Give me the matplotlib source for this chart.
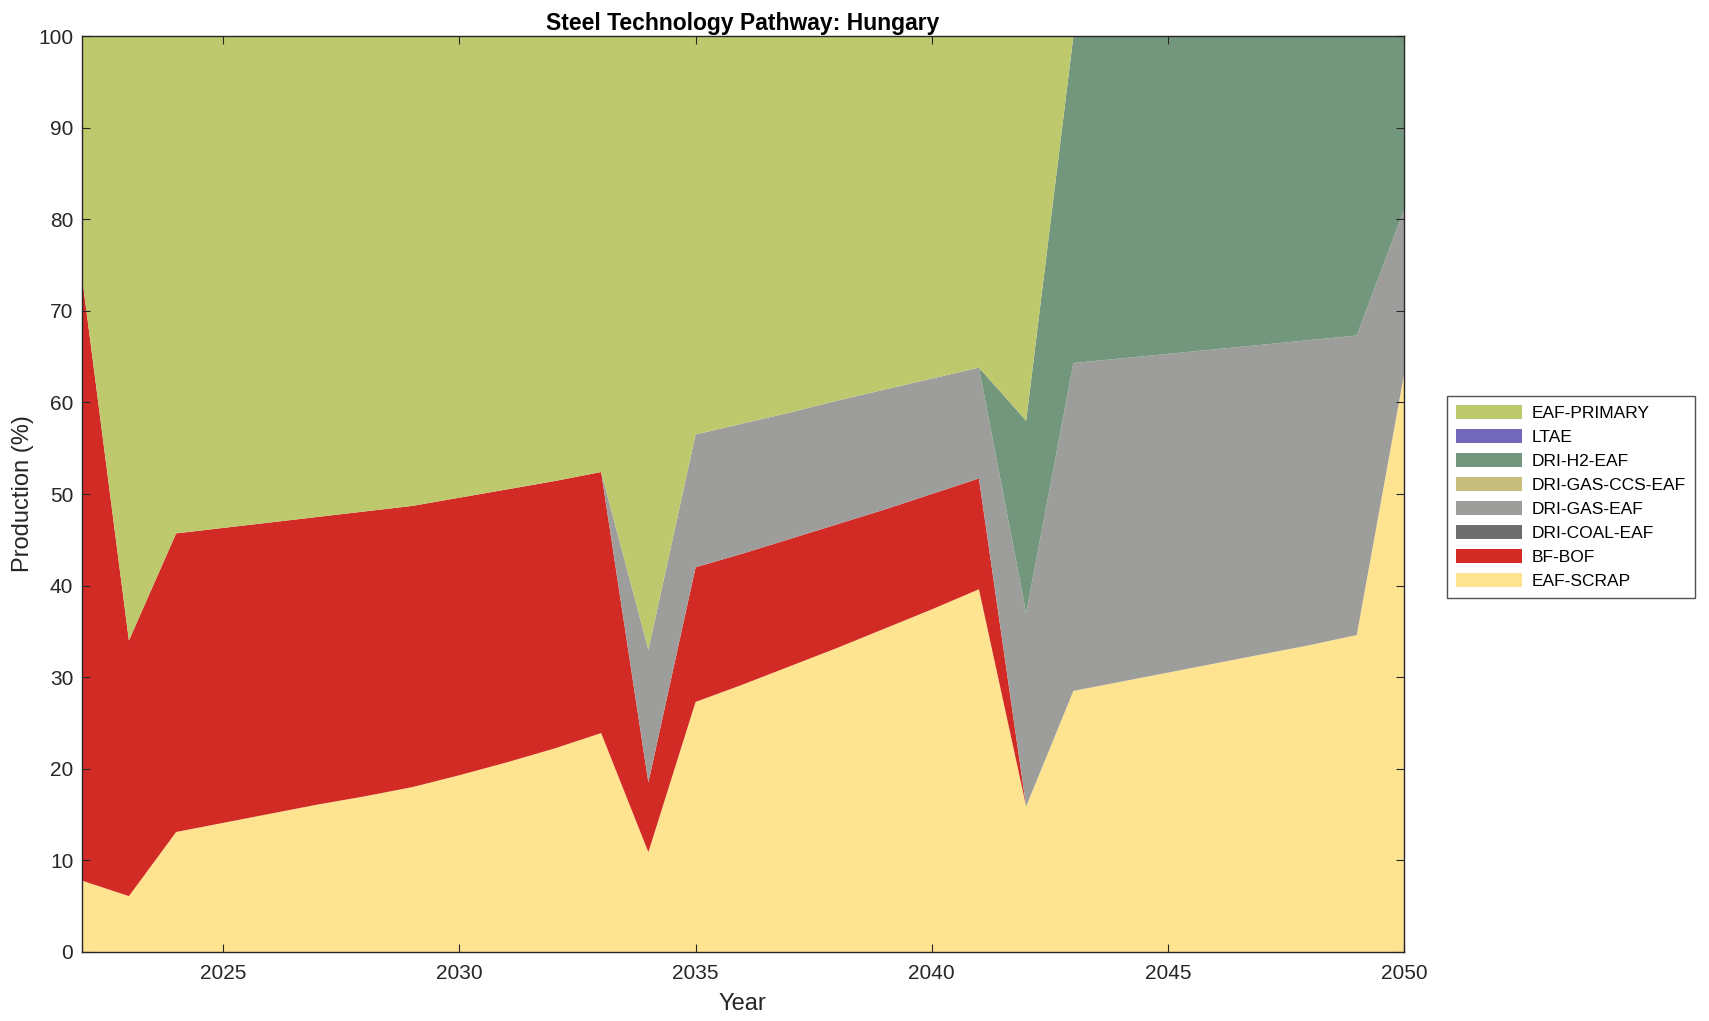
import matplotlib
matplotlib.use('Agg')
import matplotlib.pyplot as plt

plt.rcParams['font.family'] = ['Liberation Sans', 'DejaVu Sans']

years = list(range(2022, 2051))

eaf_scrap = [7.8, 6.1, 13.1, 14.1, 15.1, 16.1, 17.0, 18.0, 19.3, 20.7, 22.2, 23.9, 10.9, 27.3,
             29.2, 31.2, 33.2, 35.3, 37.4, 39.6, 15.9, 28.5, 29.5, 30.5, 31.5, 32.5, 33.5, 34.6, 63.0]
bf_bof = [66.2, 27.9, 32.6, 32.2, 31.8, 31.4, 31.1, 30.7, 30.3, 29.8, 29.2, 28.5, 7.6, 14.7,
          14.3, 13.9, 13.5, 13.0, 12.6, 12.1, 0, 0, 0, 0, 0, 0, 0, 0, 0]
dri_coal = [0] * 29
dri_gas = [0, 0, 0, 0, 0, 0, 0, 0, 0, 0, 0, 0, 14.5, 14.5,
           14.2, 13.8, 13.5, 13.1, 12.6, 12.1, 21.1, 35.8, 35.3, 34.8, 34.3, 33.8, 33.3, 32.7, 18.0]
dri_gas_ccs = [0] * 29
dri_h2 = [0, 0, 0, 0, 0, 0, 0, 0, 0, 0, 0, 0, 0, 0,
          0, 0, 0, 0, 0, 0, 21.0, 35.7, 35.2, 34.7, 34.2, 33.7, 33.2, 32.7, 19.0]
ltae = [0] * 29
eaf_primary = [26.0, 66.0, 54.3, 53.7, 53.1, 52.5, 51.9, 51.3, 50.4, 49.5, 48.6, 47.6, 67.0, 43.5,
               42.3, 41.1, 39.8, 38.6, 37.4, 36.2, 42.0, 0, 0, 0, 0, 0, 0, 0, 0]

labels = ['EAF-SCRAP', 'BF-BOF', 'DRI-COAL-EAF', 'DRI-GAS-EAF', 'DRI-GAS-CCS-EAF',
          'DRI-H2-EAF', 'LTAE', 'EAF-PRIMARY']
colors = ['#FEE391', '#D22B25', '#6E6E6E', '#9D9D9B', '#C6BD7E', '#73977C', '#7267B8', '#BEC86C']

fig = plt.figure(figsize=(17.09, 10.21), dpi=100)
ax = fig.add_axes([0.0478, 0.0676, 0.7737, 0.8971])

ax.stackplot(years, eaf_scrap, bf_bof, dri_coal, dri_gas, dri_gas_ccs, dri_h2, ltae,
             eaf_primary, labels=labels, colors=colors, linewidth=0)

ax.set_xlim(2022, 2050)
ax.set_ylim(0, 100)
ax.set_xticks(range(2025, 2051, 5))
ax.set_yticks(range(0, 101, 10))
ax.tick_params(direction='in', top=True, right=True, labelsize=15, length=6, width=0.8,
               color='#262626', labelcolor='#262626')
ax.tick_params(axis='x', pad=9)
ax.tick_params(axis='y', pad=6)
for s in ax.spines.values():
    s.set_color('#262626')
    s.set_linewidth(1.0)
ax.set_axisbelow(False)

ax.set_xlabel('Year', fontsize=17, color='#262626', labelpad=7)
ax.set_ylabel('Production (%)', fontsize=17, color='#262626', labelpad=3)
ax.set_title('Steel Technology Pathway: Hungary', fontsize=16.5, fontweight='bold', pad=4)

handles, labs = ax.get_legend_handles_labels()
leg = fig.legend(handles[::-1], labs[::-1], loc='upper left', bbox_to_anchor=(0.8467, 0.612),
                 bbox_transform=fig.transFigure, borderaxespad=0, fancybox=False,
                 edgecolor='#262626', fontsize=12.5, handlelength=3.8, handleheight=0.9,
                 labelspacing=0.45, borderpad=0.5, handletextpad=0.6)
leg.get_frame().set_linewidth(1.0)

fig.savefig('out.png', dpi=100)
